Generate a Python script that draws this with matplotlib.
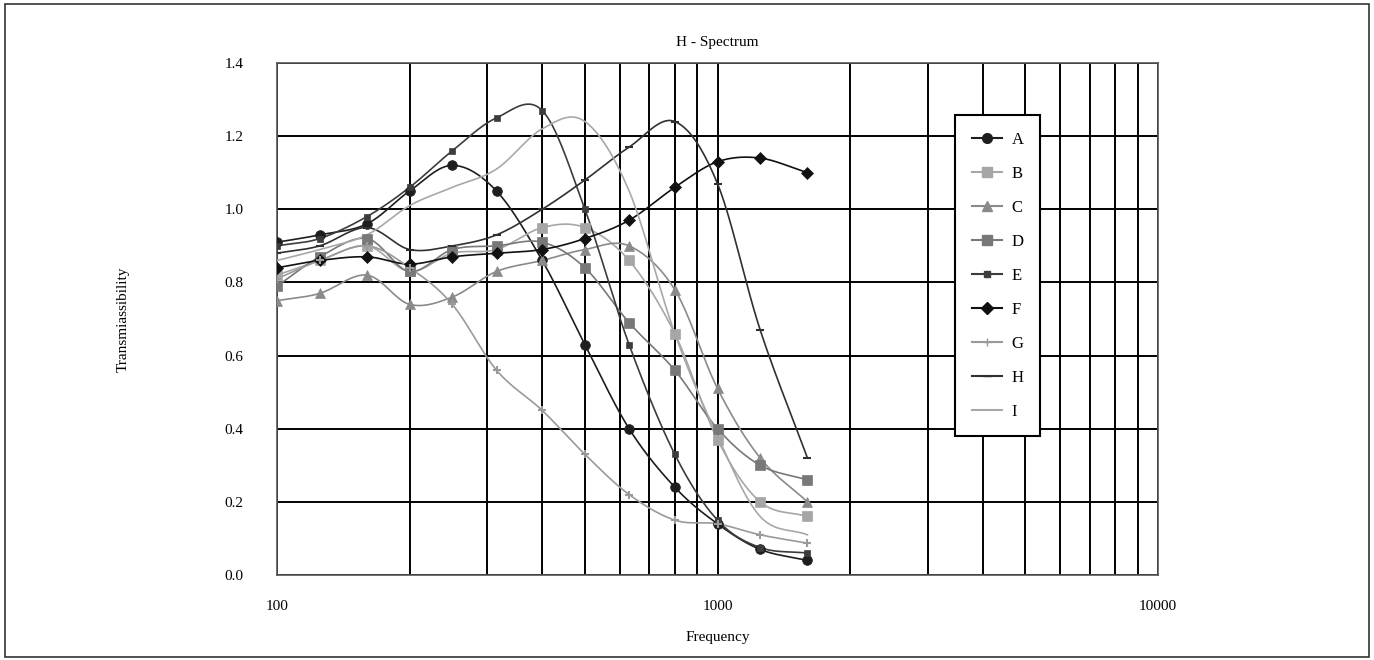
import numpy as np
import matplotlib
matplotlib.use("Agg")
import matplotlib.pyplot as plt
from matplotlib.patches import Rectangle

freqs = [100, 125, 160, 200, 250, 315, 400, 500, 630, 800, 1000, 1250, 1600]

A = [0.91, 0.93, 0.96, 1.05, 1.12, 1.05, 0.86, 0.63, 0.40, 0.24, 0.14, 0.07, 0.04]
B = [0.82, 0.86, 0.90, 0.83, 0.88, 0.89, 0.95, 0.95, 0.86, 0.66, 0.37, 0.20, 0.16]
C = [0.75, 0.77, 0.82, 0.74, 0.76, 0.83, 0.86, 0.89, 0.90, 0.78, 0.51, 0.32, 0.20]
D = [0.79, 0.87, 0.92, 0.83, 0.89, 0.90, 0.91, 0.84, 0.69, 0.56, 0.40, 0.30, 0.26]
E = [0.90, 0.92, 0.98, 1.06, 1.16, 1.25, 1.27, 1.00, 0.63, 0.33, 0.15, 0.075, 0.06]
F = [0.84, 0.86, 0.87, 0.85, 0.87, 0.88, 0.89, 0.92, 0.97, 1.06, 1.13, 1.14, 1.10]
G = [0.81, 0.86, 0.90, 0.84, 0.74, 0.56, 0.45, 0.33, 0.22, 0.15, 0.14, 0.11, 0.087]
H = [0.88, 0.90, 0.95, 0.89, 0.90, 0.93, 1.00, 1.08, 1.17, 1.24, 1.07, 0.67, 0.32]
I = [0.86, 0.89, 0.93, 1.01, 1.06, 1.11, 1.22, 1.24, 1.05, 0.66, 0.38, 0.16, 0.11]

labels = ["A", "B", "C", "D", "E", "F", "G", "H", "I"]
series = [A, B, C, D, E, F, G, H, I]

styles = {
    "A": dict(color="#1e1e1e", marker="o", ms=7),
    "B": dict(color="#a6a6a6", marker="s", ms=7),
    "C": dict(color="#8a8a8a", marker="^", ms=7),
    "D": dict(color="#787878", marker="s", ms=7),
    "E": dict(color="#3c3c3c", marker="s", ms=4),
    "F": dict(color="#111111", marker="D", ms=6),
    "G": dict(color="#9a9a9a", marker="+", ms=6),
    "H": dict(color="#303030", marker="_", ms=6),
    "I": dict(color="#a8a8a8", marker=None, ms=0),
}

plt.rcParams['font.family'] = ['Liberation Serif', 'DejaVu Serif']

def smooth(x, y, n=20):
    lx = np.log10(np.asarray(x, float))
    y = np.asarray(y, float)
    px = np.concatenate([[2 * lx[0] - lx[1]], lx, [2 * lx[-1] - lx[-2]]])
    py = np.concatenate([[2 * y[0] - y[1]], y, [2 * y[-1] - y[-2]]])
    outx, outy = [], []
    t = np.linspace(0, 1, n, endpoint=False)
    for i in range(1, len(px) - 2):
        p0, p1, p2, p3 = px[i - 1], px[i], px[i + 1], px[i + 2]
        q0, q1, q2, q3 = py[i - 1], py[i], py[i + 1], py[i + 2]
        tx = 0.5 * ((2 * p1) + (-p0 + p2) * t + (2 * p0 - 5 * p1 + 4 * p2 - p3) * t**2 + (-p0 + 3 * p1 - 3 * p2 + p3) * t**3)
        ty = 0.5 * ((2 * q1) + (-q0 + q2) * t + (2 * q0 - 5 * q1 + 4 * q2 - q3) * t**2 + (-q0 + 3 * q1 - 3 * q2 + q3) * t**3)
        outx.extend(tx)
        outy.extend(ty)
    outx.append(lx[-1])
    outy.append(y[-1])
    return 10 ** np.array(outx), np.array(outy)

fig = plt.figure(figsize=(13.74, 6.6), dpi=100)
fig.patches.append(Rectangle((0.004, 0.004), 0.992, 0.99, transform=fig.transFigure,
                             fill=False, edgecolor="#333333", linewidth=1.2))
ax = fig.add_axes([277 / 1374, 1 - 575 / 660, (1158 - 277) / 1374, (575 - 63) / 660])

ax.set_xscale("log")
ax.set_xlim(100, 10000)
ax.set_ylim(0, 1.4)
ax.set_yticks(np.arange(0, 1.41, 0.2))
ax.set_yticklabels([f"{v:.1f}" for v in np.arange(0, 1.41, 0.2)])
ax.set_xticks([100, 1000, 10000])
ax.set_xticklabels(["100", "1000", "10000"])
ax.grid(True, which="major", color="black", linewidth=1.4)
ax.grid(True, which="minor", axis="x", color="black", linewidth=1.4)
ax.tick_params(which="both", length=0, labelsize=11)
ax.tick_params(axis="y", pad=24)
ax.tick_params(axis="x", pad=18)
for s in ax.spines.values():
    s.set_color("#555555")
    s.set_linewidth(1.2)
ax.set_axisbelow(True)

for lab, vals in zip(labels, series):
    st = styles[lab]
    sx, sy = smooth(freqs, vals)
    ax.plot(sx, sy, color=st["color"], linewidth=1.2, zorder=3)
    if st["marker"]:
        ax.plot(freqs, vals, linestyle="none", marker=st["marker"], markersize=st["ms"],
                color=st["color"], markeredgewidth=1.5 if st["marker"] in ("+", "_") else 0.5,
                zorder=4)
    ax.plot([], [], color=st["color"], linewidth=1.5, marker=st["marker"],
            markersize=st["ms"] if st["ms"] else 0, label=lab)

leg = ax.legend(loc="upper left", bbox_to_anchor=(0.760, 0.915), fontsize=12,
                frameon=True, fancybox=False, edgecolor="black", framealpha=1,
                labelspacing=1.08, handlelength=1.8, borderpad=1.0, handletextpad=0.6,
                borderaxespad=0.5)
leg.get_frame().set_linewidth(1.5)

ax.set_title("H - Spectrum", fontsize=11, pad=12)
ax.set_xlabel("Frequency", fontsize=11, labelpad=13)
ax.set_ylabel("Transmiassibility", fontsize=11, labelpad=68)

fig.savefig("out.png", dpi=100)
